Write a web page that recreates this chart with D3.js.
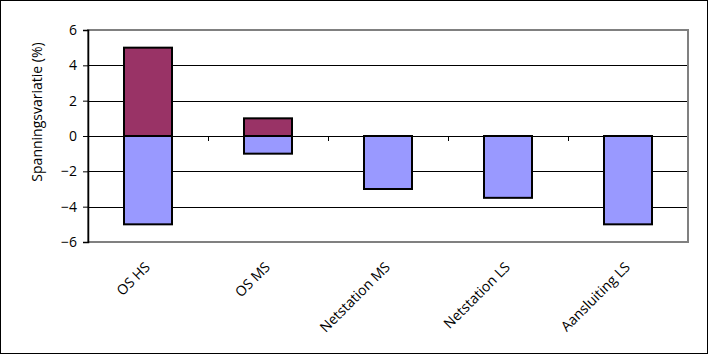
<!DOCTYPE html>
<html>
<head>
<meta charset="utf-8">
<script src="https://cdn.jsdelivr.net/npm/d3@7/dist/d3.min.js"></script>
<style>
  body { margin: 0; background: #fff; }
  svg { display: block; font-family: "Open Sans", "DejaVu Sans", sans-serif; }
</style>
</head>
<body>
<svg id="chart" width="708" height="354"></svg>
<script>
// categories and values (%)
const categories = ["OS HS", "OS MS", "Netstation MS", "Netstation LS", "Aansluiting LS"];
const positive = [5, 1, 0, 0, 0];
const negative = [-5, -1, -3, -3.5, -5];
const yTicks = [-6, -4, -2, 0, 2, 4, 6];

const svg = d3.select("#chart");
const W = 708, H = 354;
const plot = { left: 88, top: 30, right: 688, bottom: 242 };

// outer frame
svg.append("rect")
  .attr("x", 0.5).attr("y", 0.5)
  .attr("width", W - 1).attr("height", H - 1)
  .attr("fill", "#fff").attr("stroke", "#000");

const x = d3.scaleBand().domain(categories)
  .range([plot.left, plot.right]).paddingInner(0).paddingOuter(0);
const y = d3.scaleLinear().domain([-6, 6]).range([plot.bottom, plot.top]);

// gridlines
svg.append("g").selectAll("line")
  .data(yTicks.filter(d => d !== 6 && d !== -6))
  .join("line")
  .attr("x1", plot.left).attr("x2", plot.right)
  .attr("y1", d => Math.round(y(d)) + 0.5).attr("y2", d => Math.round(y(d)) + 0.5)
  .attr("stroke", "#000").attr("stroke-width", 1);

// plot border (gray)
svg.append("rect")
  .attr("x", plot.left).attr("y", plot.top)
  .attr("width", plot.right - plot.left).attr("height", plot.bottom - plot.top)
  .attr("fill", "none").attr("stroke", "#808080").attr("stroke-width", 2);

// bars
const bw = x.bandwidth() * 0.4;
const bars = svg.append("g");
categories.forEach((c, i) => {
  const cx = x(c) + x.bandwidth() / 2;
  if (positive[i] > 0) {
    bars.append("rect")
      .attr("x", cx - bw / 2).attr("y", y(positive[i]))
      .attr("width", bw).attr("height", y(0) - y(positive[i]))
      .attr("fill", "#993366").attr("stroke", "#000").attr("stroke-width", 2);
  }
  bars.append("rect")
    .attr("x", cx - bw / 2).attr("y", y(0))
    .attr("width", bw).attr("height", y(negative[i]) - y(0))
    .attr("fill", "#9999ff").attr("stroke", "#000").attr("stroke-width", 2);
});

// zero line category ticks
svg.append("g").selectAll("line")
  .data(categories.slice(1))
  .join("line")
  .attr("x1", d => x(d) + 0.5).attr("x2", d => x(d) + 0.5)
  .attr("y1", y(0)).attr("y2", y(0) + 5)
  .attr("stroke", "#000");

// y axis
const yAxis = svg.append("g")
  .attr("transform", `translate(${plot.left},0)`)
  .call(d3.axisLeft(y).tickValues(yTicks).tickSize(5).tickPadding(6).tickFormat(d3.format("d")));
yAxis.select(".domain").attr("stroke", "#000").attr("stroke-width", 1.5);
yAxis.selectAll(".tick line").attr("stroke", "#000");
yAxis.selectAll(".tick text").attr("font-size", 14).attr("fill", "#000")
  .attr("font-family", "'Open Sans', 'DejaVu Sans', sans-serif");

// y title
svg.append("text")
  .attr("transform", `translate(42,112) rotate(-90)`)
  .attr("text-anchor", "middle")
  .attr("font-size", 14)
  .text("Spanningsvariatie (%)");

// category labels, rotated
svg.append("g").selectAll("text")
  .data(categories)
  .join("text")
  .attr("transform", d => `translate(${x(d) + x.bandwidth() / 2 + 3},${plot.bottom + 26}) rotate(-45)`)
  .attr("text-anchor", "end")
  .attr("font-size", 14)
  .text(d => d);
</script>
</body>
</html>
